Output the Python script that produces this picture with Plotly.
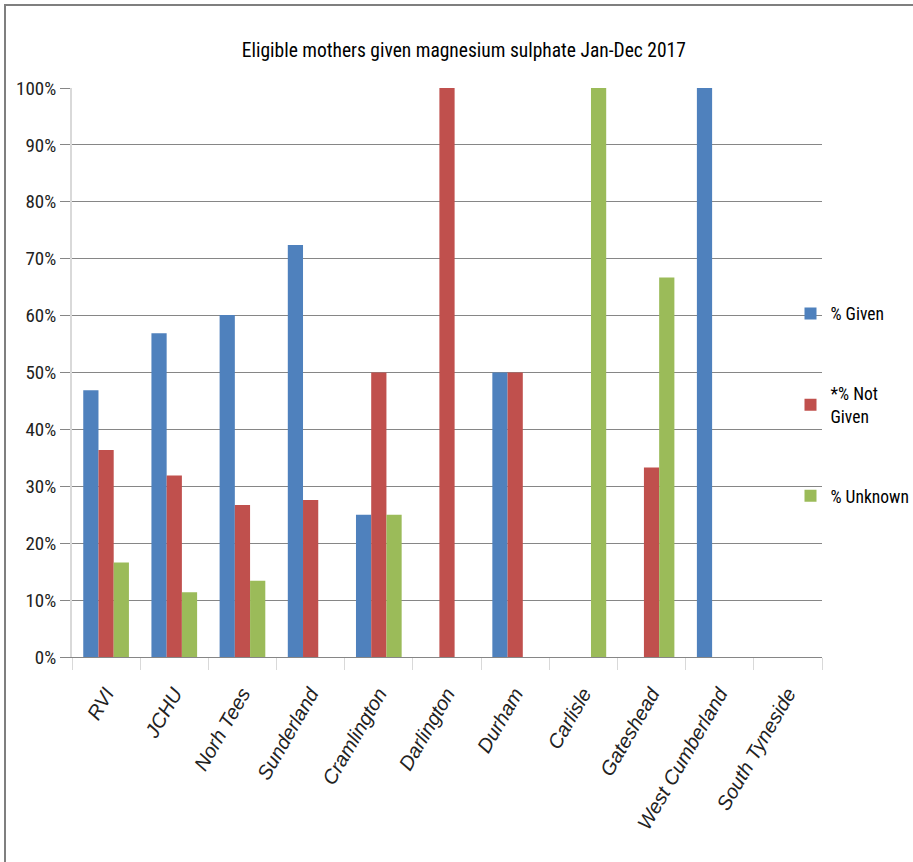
import plotly.graph_objects as go

categories = ["RVI", "JCHU", "Norh Tees", "Sunderland", "Cramlington", "Darlington",
              "Durham", "Carlisle", "Gateshead", "West Cumberland", "South Tyneside"]
pct_given = [46.9, 56.9, 60.1, 72.4, 25.0, None, 50.0, None, None, 100.0, None]
pct_not_given = [36.4, 31.9, 26.7, 27.6, 50.0, 100.0, 50.0, None, 33.3, None, None]
pct_unknown = [16.6, 11.4, 13.4, None, 25.0, None, None, 100.0, 66.7, None, None]
series_names = ["% Given", "*% Not<br>Given", "% Unknown"]
colors = ["#4F81BD", "#C0504D", "#9BBB59"]

FONT = "Liberation Sans Narrow, Roboto Condensed, DejaVu Sans Condensed, Arial Narrow, sans-serif"
XFONT = "Liberation Sans, Arial, sans-serif"

fig = go.Figure()
for i, (name, vals) in enumerate(zip(series_names, [pct_given, pct_not_given, pct_unknown])):
    fig.add_trace(go.Bar(x=categories, y=vals, name=name, marker_color=colors[i],
                         marker_line_width=0, legendgroup=f"g{i}"))

fig.update_layout(
    width=913, height=862,
    margin=dict(l=72, r=91, t=88, b=205, autoexpand=False),
    paper_bgcolor="white", plot_bgcolor="white",
    barmode="group", bargap=0.33, bargroupgap=0,
    font=dict(family=FONT, size=16, color="#000000"),
    title=dict(text="Eligible mothers given magnesium sulphate Jan-Dec 2017",
               x=0.508, xanchor="center", y=0.942, yanchor="middle",
               font=dict(family=FONT, size=19.5, color="#000000")),
    legend=dict(x=0.958, xanchor="left", y=0.635, yanchor="top",
                tracegroupgap=54, font=dict(family=FONT, size=17.5),
                itemwidth=30, bgcolor="rgba(0,0,0,0)"),
    showlegend=True,
)
fig.update_yaxes(range=[0, 100], dtick=10, ticksuffix="%", showgrid=True,
                 gridcolor="#868686", gridwidth=1, showline=True, linecolor="#d9d9d9",
                 linewidth=2, ticks="outside", ticklen=10, tickcolor="#868686",
                 zeroline=False, tickfont=dict(family=FONT, size=19, color="#222222"))
fig.update_xaxes(showline=True, linecolor="#868686", linewidth=1, ticks="outside",
                 tickson="boundaries", ticklen=12, tickcolor="#d9d9d9", tickangle=-60,
                 ticklabelstandoff=16,
                 tickmode="array", tickvals=categories,
                 ticktext=[f"<i>{c}</i>" for c in categories],
                 tickfont=dict(family=XFONT, size=20, style="italic", color="#222222"))

fig.add_shape(type="rect", xref="paper", yref="paper",
              x0=(5 - 72) / 750, x1=(960 - 72) / 750,
              y0=(657 - 900) / 569, y1=(657 - 5) / 569,
              line=dict(color="#7f7f7f", width=2), fillcolor="rgba(0,0,0,0)", layer="below")

fig.write_html("out.html")
